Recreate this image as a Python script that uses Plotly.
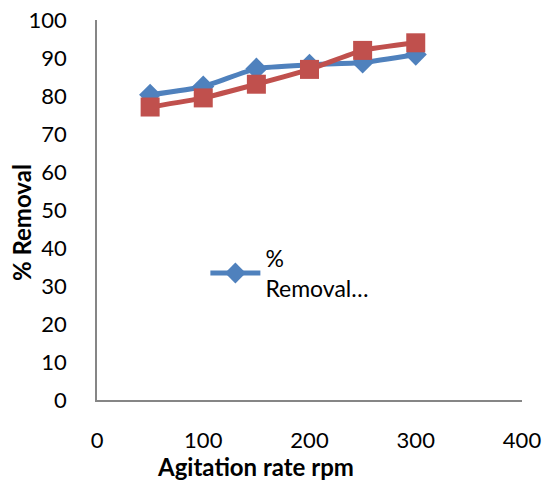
import plotly.graph_objects as go

agitation_rpm = [50, 100, 150, 200, 250, 300]
removal_blue = [80.3, 82.5, 87.2, 88.2, 88.8, 90.9]
removal_red = [77.1, 79.5, 83.1, 87.0, 92.0, 94.0]
x_ticks = [0, 100, 200, 300, 400]
y_ticks = [0, 10, 20, 30, 40, 50, 60, 70, 80, 90, 100]

FONT = "Lato"

fig = go.Figure()
fig.add_trace(go.Scatter(
    x=agitation_rpm, y=removal_blue, mode="lines+markers",
    name="%<br>Removal…",
    line=dict(color="#4F81BD", width=5, shape="spline", smoothing=0.5),
    marker=dict(symbol="diamond", size=17, color="#4F81BD"),
))
fig.add_trace(go.Scatter(
    x=agitation_rpm, y=removal_red, mode="lines+markers",
    name="% Removal", showlegend=False,
    line=dict(color="#C0504D", width=5, shape="spline", smoothing=0.5),
    marker=dict(symbol="square", size=19, color="#C0504D"),
))

fig.update_layout(
    width=543, height=484,
    margin=dict(l=97, r=21, t=20, b=84),
    paper_bgcolor="white", plot_bgcolor="white",
    font=dict(family=FONT, size=22, color="black"),
    legend=dict(x=0.255, y=0.43, xanchor="left", yanchor="top",
                bgcolor="rgba(0,0,0,0)", font=dict(size=23),
                itemwidth=50),
    xaxis=dict(range=[0, 400], tickvals=x_ticks, showgrid=False, zeroline=False,
               showline=True, linecolor="#868686", linewidth=1.5,
               ticks="", ticklabelstandoff=20, automargin=False),
    yaxis=dict(range=[0, 100], tickvals=y_ticks, showgrid=False, zeroline=False,
               showline=True, linecolor="#868686", linewidth=1.5,
               ticks="", ticklabelstandoff=24, automargin=False),
    annotations=[
        dict(text="<b>Agitation rate rpm</b>", xref="paper", yref="paper",
             x=0.372, y=-0.174, xanchor="center", yanchor="middle",
             showarrow=False, font=dict(size=24)),
        dict(text="<b>% Removal</b>", xref="paper", yref="paper",
             x=-0.176, y=0.466, xanchor="center", yanchor="middle",
             textangle=-90, showarrow=False, font=dict(size=24)),
    ],
)

fig.write_html("out.html")
